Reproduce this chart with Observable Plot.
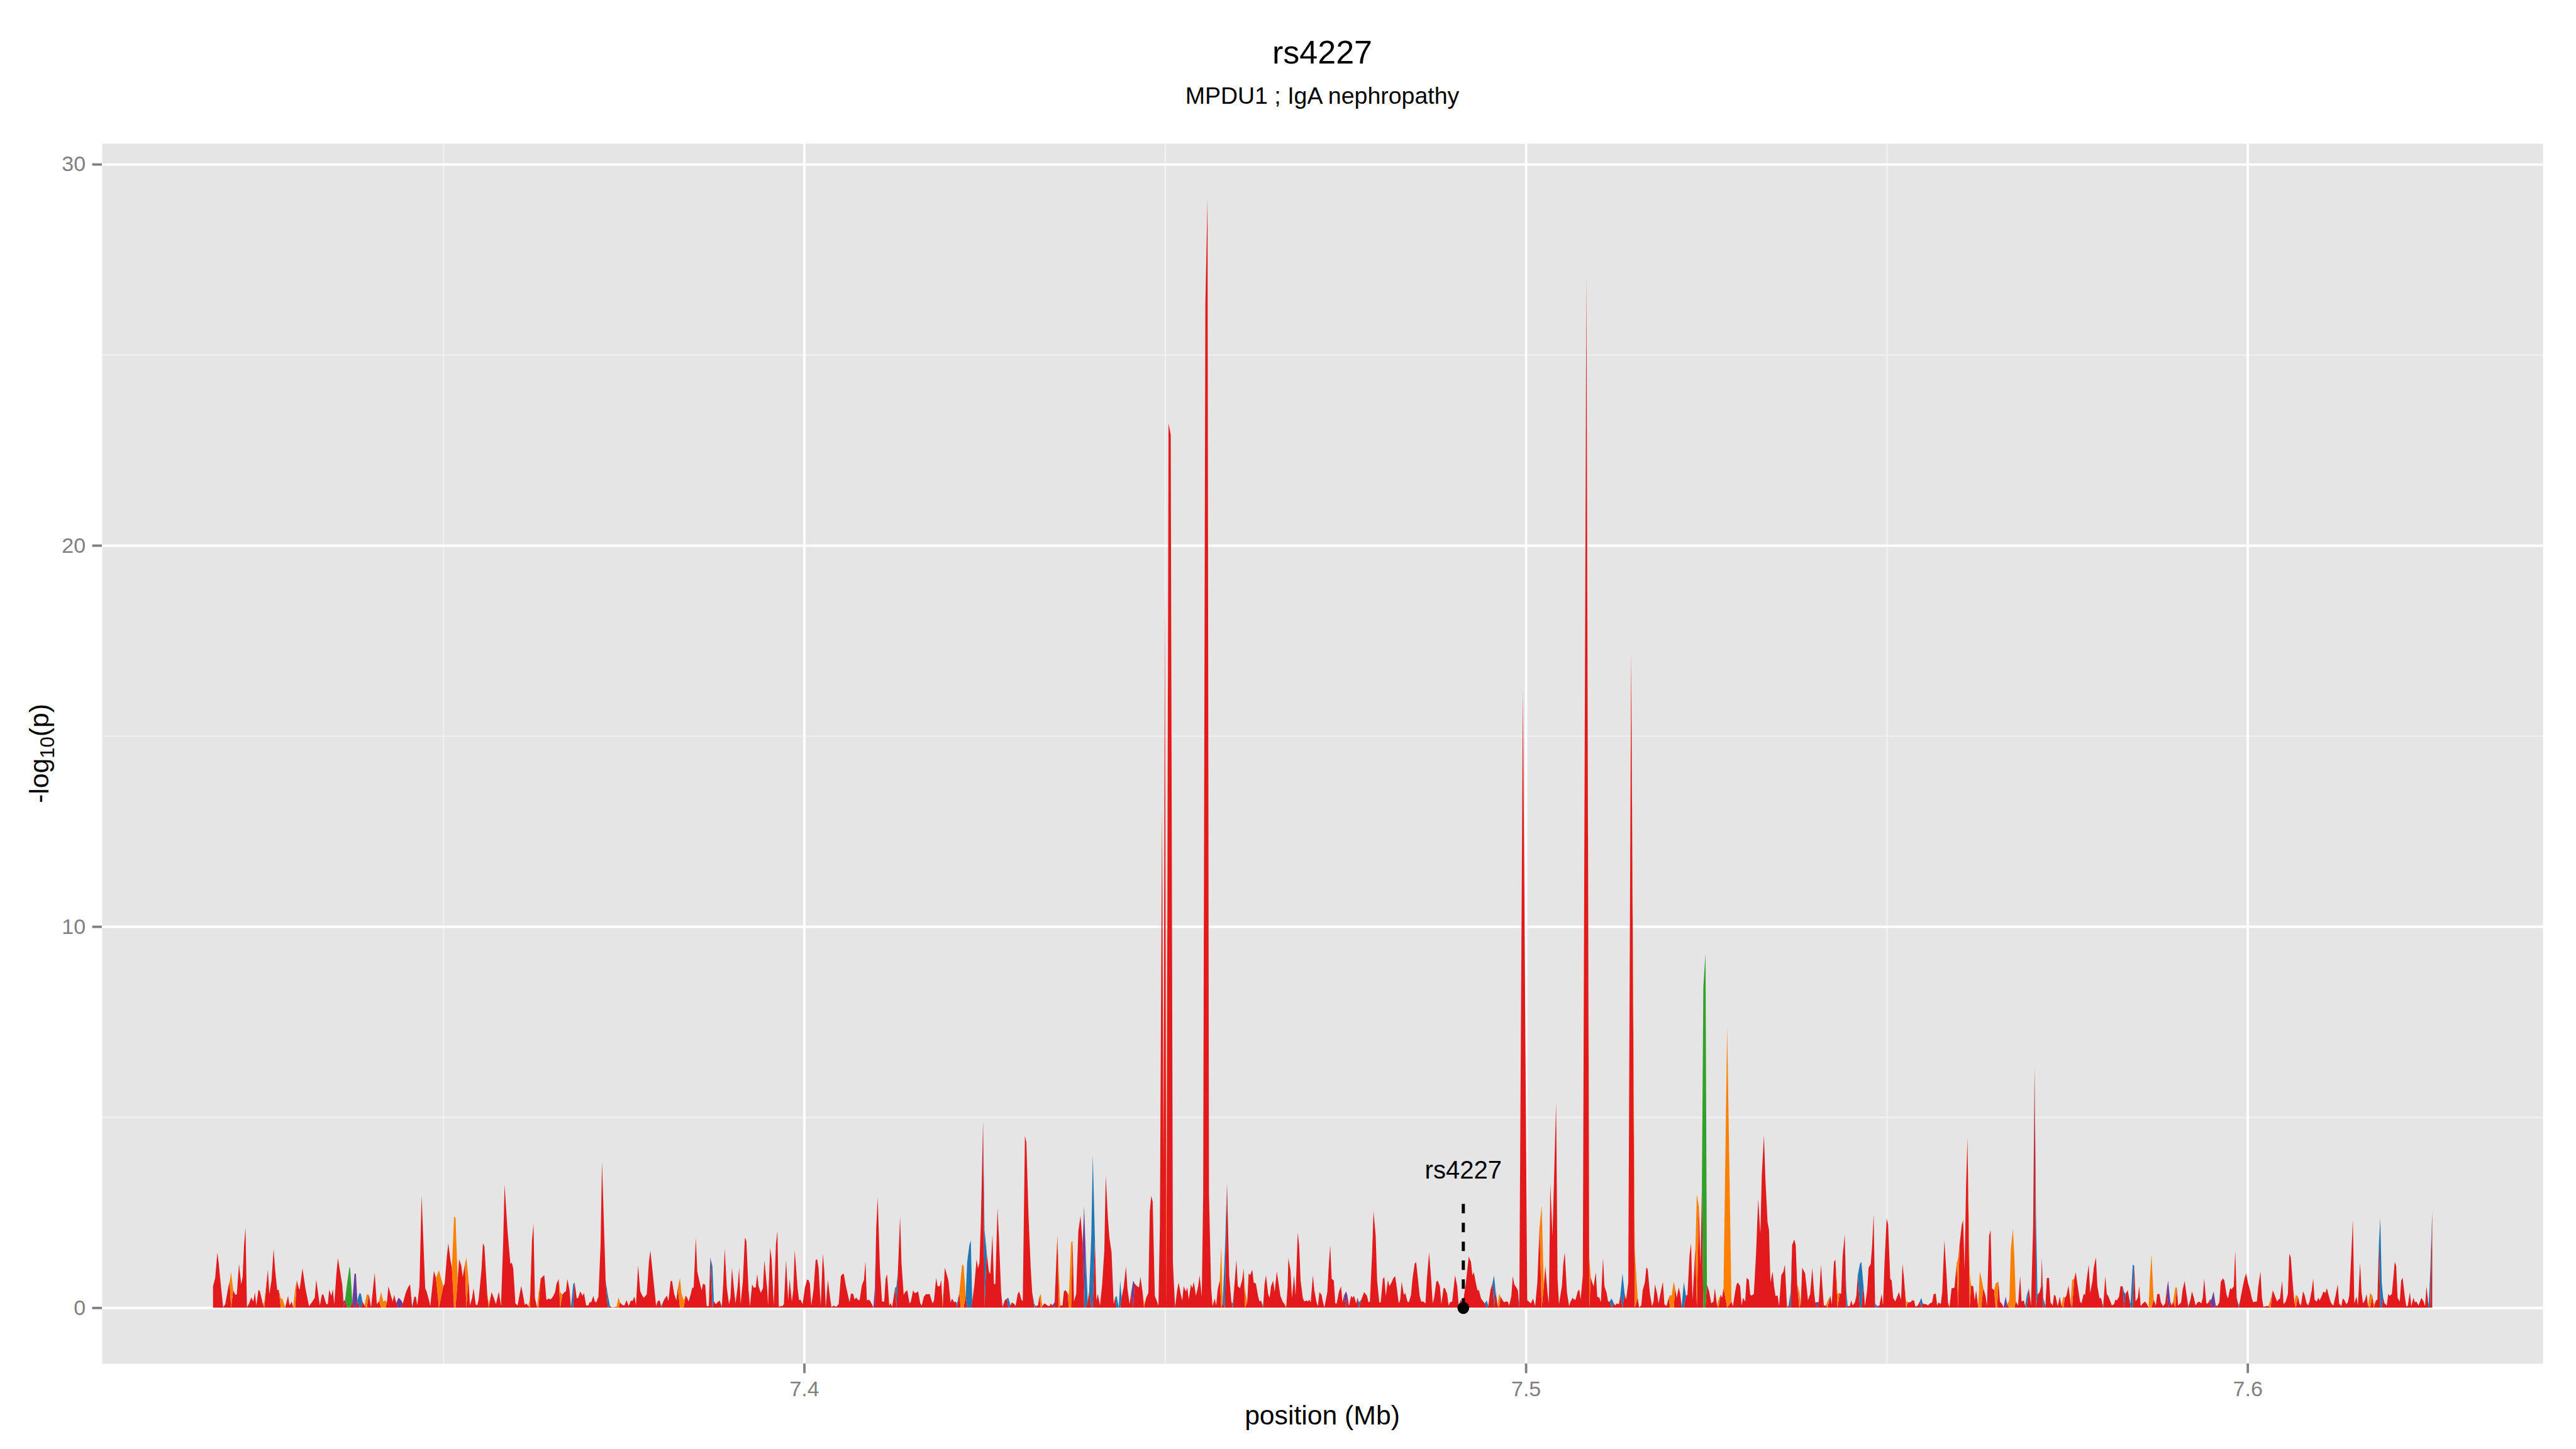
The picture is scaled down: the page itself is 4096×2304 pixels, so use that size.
<!DOCTYPE html>
<html>
<head>
<meta charset="utf-8">
<script src="https://cdn.jsdelivr.net/npm/d3@7"></script>
<script src="https://cdn.jsdelivr.net/npm/@observablehq/plot@0.6"></script>
<style>
  html, body { margin: 0; padding: 0; background: #ffffff; }
  #chart svg { display: block; }
</style>
</head>
<body>
<div id="chart"></div>
<script>
// ---------------- DATA ----------------
// Each SNP: [position (Mb), -log10(p), class]; class defaults to "R"
const classCodes = ["R", "B", "O", "G", "P"];
const classColors = ["#E31A1C", "#1F78B4", "#FF7F00", "#33A02C", "#6A3D9A"];

const snpsA = [
[7.3181,0.56],[7.3184,0.78],[7.3187,1.45],[7.3189,1.15],[7.3192,0.56],[7.3195,0.02,"P"],[7.3198,0.09],[7.3202,0.53],
[7.3204,0.68],[7.3206,0.93,"O"],[7.3209,0.46],[7.3212,0.34],[7.3214,0.35],[7.3217,1.15],[7.3220,0.61],[7.3222,0.8],
[7.3224,1.64],[7.3226,2.1],[7.3228,0.02,"B"],[7.3231,0.11],[7.3234,0.27],[7.3237,0.16],[7.3239,0.4],[7.3241,0.06],
[7.3244,0.47],[7.3246,0.43],[7.3250,0.1],[7.3252,0.14,"O"],[7.3257,1.0],[7.3259,0.36],[7.3262,0.71],[7.3265,1.54],
[7.3267,1.0],[7.3270,0.46],[7.3272,0.47],[7.3275,0.24,"O"],[7.3277,0.24,"O"],[7.3281,0.01],[7.3285,0.31],[7.3287,0.06],
[7.3290,0.16],[7.3292,0.01],[7.3295,0.51,"O"],[7.3297,0.72],[7.3300,0.5],[7.3301,0.48],[7.3305,1.03],[7.3309,0.51],
[7.3314,0.04],[7.3318,0.14],[7.3322,0.26],[7.3324,0.73],[7.3329,0.06],[7.3332,0.35],[7.3334,0.34],[7.3338,0.09],
[7.3340,0.09],[7.3342,0.47],[7.3345,0.31],[7.3347,0.48],[7.3349,0.09],[7.3352,0.9],[7.3354,1.3],[7.3360,0.61],
[7.3362,0.16,"P"],[7.3364,0.21],[7.3367,0.66,"G"],[7.3370,1.06,"G"],[7.3371,1.04,"G"],[7.3374,0.16],[7.3377,0.89,"P"],[7.3379,0.89,"P"],
[7.3381,0.19],[7.3384,0.39,"B"],[7.3386,0.36,"B"],[7.3388,0.16],[7.3391,0.06],[7.3394,0.35,"O"],[7.3397,0.34],[7.3400,0.01],
[7.3405,0.91],[7.3408,0.09],[7.3411,0.17],[7.3414,0.41,"O"],[7.3417,0.16,"O"],[7.3420,0.19,"O"],[7.3422,0.14],[7.3424,0.56],
[7.3427,0.35],[7.3430,0.16],[7.3432,0.34],[7.3435,0.12],[7.3438,0.26,"P"],[7.3441,0.21,"P"],[7.3444,0.11],[7.3448,0.39],
[7.3451,0.53],[7.3454,0.61],[7.3457,0.04,"B"],[7.3460,0.29],[7.3462,0.29],[7.3464,0.06],[7.3467,0.56],[7.3470,2.95],
[7.3475,0.51],[7.3477,0.42],[7.3481,0.14],[7.3482,0.04],[7.3484,0.41],[7.3487,0.96],[7.3490,0.78],[7.3494,0.98,"O"],
[7.3500,0.56],[7.3502,0.63],[7.3505,1.34],[7.3507,1.69],[7.3510,1.25],[7.3512,1.05],[7.3515,2.39,"O"],[7.3517,2.36,"O"],
[7.3520,0.73],[7.3522,1.27],[7.3525,1.1],[7.3527,0.8],[7.3530,1.15],[7.3532,1.31,"O"],[7.3535,0.76],[7.3537,0.06],
[7.3540,0.26],[7.3542,0.51],[7.3545,0.09],[7.3547,0.06],[7.3549,0.21],[7.3553,1.0],[7.3555,1.69],[7.3557,1.61],
[7.3561,0.34],[7.3563,0.1,"O"],[7.3567,0.41],[7.3570,0.26],[7.3573,0.09],[7.3577,0.42],[7.3580,0.04],[7.3583,1.69],
[7.3585,3.23],[7.3589,2.04],[7.3593,1.15],[7.3595,1.18],[7.3597,1.03],[7.3600,0.11],[7.3603,0.06],[7.3604,0.16],
[7.3608,0.57],[7.3610,0.39],[7.3613,0.07],[7.3615,0.11],[7.3618,0.04],[7.3620,0.24,"O"],[7.3623,1.77],[7.3625,2.2],
[7.3627,0.26],[7.3630,0.01],[7.3632,0.36,"O"],[7.3635,0.76],[7.3640,0.86],[7.3643,0.2],[7.3646,0.24],[7.3649,0.22],
[7.3652,0.29],[7.3655,0.41],[7.3657,0.63],[7.3660,0.75],[7.3662,0.41,"O"],[7.3665,0.34],[7.3668,0.41],[7.3670,0.43],
[7.3672,0.75],[7.3675,0.46],[7.3677,0.01,"B"],[7.3680,0.61,"B"],[7.3682,0.67],[7.3685,0.24],[7.3687,0.26],[7.3690,0.43],
[7.3693,0.31],[7.3695,0.39],[7.3698,0.06],[7.3701,0.06],[7.3703,0.15],[7.3705,0.14],[7.3708,0.31],[7.3710,0.16],
[7.3712,0.14],[7.3715,0.29],[7.3718,1.64],[7.3720,3.84],[7.3725,0.71],[7.3728,0.34,"B"],[7.3731,0.04],[7.3734,0.01,"O"],
[7.3740,0.02],[7.3743,0.27,"O"],[7.3745,0.14],[7.3748,0.07],[7.3751,0.06],[7.3754,0.2],[7.3757,0.04],[7.3760,0.19],
[7.3762,0.17],[7.3765,0.29],[7.3767,0.06],[7.3770,1.11],[7.3773,0.43],[7.3776,0.31],[7.3778,0.26],[7.3782,0.35],
[7.3785,1.2],[7.3787,1.5]
];

const snpsB = [
[7.3795,0.04],[7.3797,0.17],[7.3800,0.19],[7.3802,0.04,"B"],[7.3806,0.21],[7.3810,0.32],[7.3812,0.17],[7.3815,0.7],
[7.3817,0.7],[7.3820,0.36],[7.3823,0.19],[7.3825,0.51],[7.3828,0.78,"O"],[7.3830,0.39,"O"],[7.3833,0.19,"O"],[7.3836,0.32],
[7.3838,0.26],[7.3840,0.16],[7.3843,0.36],[7.3845,0.52],[7.3847,0.53],[7.3850,1.84],[7.3852,0.95],[7.3856,0.61],
[7.3858,0.46],[7.3860,0.63],[7.3863,0.6],[7.3865,0.04],[7.3868,0.04],[7.3870,1.32],[7.3873,1.08,"B"],[7.3875,0.16],
[7.3878,0.09],[7.3880,0.14],[7.3883,0.19],[7.3886,0.04,"B"],[7.3888,0.66],[7.3890,1.55],[7.3893,0.51],[7.3896,0.09],
[7.3898,0.26],[7.3900,1.05],[7.3903,0.46],[7.3905,0.11],[7.3908,0.56],[7.3910,1.05],[7.3912,0.1],[7.3915,0.66],
[7.3918,1.84],[7.3920,1.75],[7.3923,0.46],[7.3925,0.04],[7.3928,0.61],[7.3930,0.53],[7.3933,0.53],[7.3935,0.88],
[7.3937,0.56],[7.3940,0.39],[7.3943,0.51],[7.3945,1.24],[7.3949,0.46],[7.3950,0.06],[7.3953,1.57],[7.3955,1.27],
[7.3958,0.06],[7.3961,1.67],[7.3963,2.01],[7.3965,0.02],[7.3967,0.04],[7.3970,0.04],[7.3972,0.09],[7.3975,1.25],
[7.3978,0.19],[7.3980,0.75],[7.3983,0.16],[7.3985,0.46],[7.3987,1.51],[7.3991,0.51],[7.3993,0.2],[7.3995,0.21],
[7.3998,0.09],[7.4001,0.51],[7.4004,0.73],[7.4006,0.73],[7.4008,0.63],[7.4010,0.06],[7.4013,0.46],[7.4016,1.25],
[7.4018,1.27],[7.4020,1.05],[7.4023,0.06],[7.4026,1.42],[7.4028,0.95],[7.4030,0.04,"B"],[7.4033,0.73],[7.4036,0.26],
[7.4038,0.01],[7.4041,0.06],[7.4044,0.02],[7.4047,0.07],[7.4048,0.11],[7.4051,0.83],[7.4053,0.88],[7.4055,0.89],
[7.4058,0.56],[7.4063,0.14],[7.4065,0.37],[7.4068,0.36],[7.4070,0.21],[7.4072,0.27],[7.4075,0.2],[7.4077,0.2],
[7.4080,0.58],[7.4083,0.73],[7.4085,1.22],[7.4087,0.19],[7.4090,0.21],[7.4092,0.16],[7.4096,0.01],[7.4098,0.51,"P"],
[7.4100,2.11],[7.4102,2.9],[7.4105,1.05],[7.4108,0.16],[7.4111,0.16],[7.4113,0.76],[7.4115,0.88],[7.4118,0.06],
[7.4120,0.12],[7.4122,0.02],[7.4126,0.51],[7.4128,0.56,"B"],[7.4130,0.95],[7.4133,2.39],[7.4135,1.15],[7.4138,0.34],
[7.4140,0.41],[7.4143,0.46],[7.4146,0.11],[7.4148,0.16],[7.4151,0.46],[7.4153,0.39],[7.4155,0.39],[7.4158,0.43],
[7.4161,0.11],[7.4163,0.06],[7.4166,0.29],[7.4169,0.36],[7.4171,0.35],[7.4174,0.36],[7.4178,0.11],[7.4180,0.19],
[7.4183,0.78],[7.4185,0.56],[7.4188,0.56],[7.4190,0.73],[7.4192,0.11,"O"],[7.4195,1.05],[7.4198,0.85],[7.4200,0.71],
[7.4203,0.14],[7.4205,0.24],[7.4208,0.14],[7.4210,0.16],[7.4212,0.11,"B"],[7.4215,0.39],[7.4217,0.76,"O"],[7.4219,1.14,"O"],
[7.4221,1.1,"O"],[7.4224,0.31],[7.4226,1.2,"B"],[7.4229,1.64,"B"],[7.4231,1.77,"B"],[7.4233,0.16],[7.4236,0.61],[7.4239,1.27],
[7.4241,1.03],[7.4243,1.18],[7.4245,2.29],[7.4248,4.9],[7.4250,2.04,"B"],[7.4253,1.45],[7.4256,0.95],[7.4258,0.88],
[7.4261,1.92],[7.4263,0.63],[7.4265,0.61],[7.4268,2.61],[7.4270,1.82],[7.4273,0.41],[7.4275,0.04,"B"],[7.4278,0.19],
[7.4281,0.24],[7.4283,0.26,"B"],[7.4286,0.06],[7.4288,0.14],[7.4291,0.1],[7.4293,0.04],[7.4296,0.36],[7.4298,0.43],
[7.4301,0.21],[7.4303,0.17],[7.4306,4.51],[7.4308,4.34],[7.4311,2.39],[7.4314,1.05],[7.4316,0.41],[7.4319,0.09,"B"],
[7.4321,0.04],[7.4324,0.06],[7.4326,0.29],[7.4328,0.36,"O"],[7.4330,0.04],[7.4333,0.11],[7.4335,0.09],[7.4337,0.06],
[7.4340,0.04],[7.4342,0.11],[7.4344,0.06],[7.4347,0.14,"P"],[7.4349,1.0],[7.4351,1.89],[7.4353,0.9,"O"],[7.4355,0.06],
[7.4358,0.06],[7.4360,0.43],[7.4362,0.46],[7.4365,0.39],[7.4367,0.34,"O"],[7.4370,1.72,"O"],[7.4372,1.74],[7.4374,0.16],
[7.4377,0.36],[7.4380,2.01],[7.4383,2.41],[7.4386,1.67],[7.4388,2.66,"P"],[7.4390,1.55,"B"],[7.4393,0.16],[7.4395,0.43],
[7.4398,1.89,"B"],[7.4400,4.02,"B"],[7.4403,1.77],[7.4405,0.19],[7.4407,0.36]
];

const snpsC = [
[7.4410,0.06],[7.4413,0.61],[7.4416,1.5],[7.4418,3.47],[7.4421,2.34],[7.4423,1.84],[7.4426,1.45],[7.4429,0.09],
[7.4431,0.27],[7.4433,0.31,"B"],[7.4436,0.01],[7.4438,0.71,"B"],[7.4440,0.26],[7.4443,0.56],[7.4446,1.08],[7.4448,0.51],
[7.4451,0.09],[7.4453,0.36],[7.4456,0.71,"P"],[7.4458,0.63],[7.4461,0.57],[7.4464,0.53],[7.4466,0.81],[7.4469,0.41],
[7.4471,0.09,"O"],[7.4474,0.26],[7.4477,0.39],[7.4479,2.53],[7.4481,2.93],[7.4483,2.78],[7.4486,0.31],[7.4488,0.21],
[7.4491,0.06],[7.4493,2.14],[7.4496,13.1],[7.4498,3.8],[7.4500,18.7],[7.4502,2.0,"O"],[7.4505,23.2],[7.4508,22.9],
[7.4511,1.2],[7.4514,0.04,"B"],[7.4517,0.46],[7.4519,0.66],[7.4522,0.34],[7.4524,0.19],[7.4526,0.56],[7.4529,0.42],
[7.4531,0.53],[7.4533,0.21],[7.4536,0.61],[7.4538,0.51],[7.4540,0.68],[7.4543,0.31],[7.4546,0.56],[7.4548,0.85],
[7.4551,0.29],[7.4553,3.0],[7.4556,26.3],[7.4559,29.1],[7.4561,3.0],[7.4564,0.51],[7.4566,0.04],[7.4569,0.24],
[7.4571,0.06],[7.4573,0.46],[7.4576,0.73],[7.4578,1.6,"O"],[7.4580,0.11],[7.4583,1.45,"B"],[7.4586,3.27],[7.4589,0.85],
[7.4592,0.16],[7.4594,0.11,"B"],[7.4596,0.53],[7.4599,1.26],[7.4601,0.56],[7.4604,0.51],[7.4607,0.73],[7.4609,1.03],
[7.4611,0.46,"O"],[7.4614,0.14],[7.4616,0.9],[7.4618,0.85],[7.4621,1.0],[7.4623,0.66],[7.4626,0.63],[7.4629,0.31],
[7.4631,0.16],[7.4633,0.19],[7.4636,0.04,"B"],[7.4638,0.61],[7.4640,0.85],[7.4643,0.36],[7.4645,0.26],[7.4647,0.56],
[7.4650,0.71],[7.4652,0.41],[7.4655,0.95],[7.4658,0.56],[7.4660,0.31],[7.4663,0.16],[7.4665,0.11],[7.4668,0.04,"O"],
[7.4670,0.56],[7.4671,1.3],[7.4674,0.98],[7.4676,0.26],[7.4679,0.85],[7.4681,0.31],[7.4684,1.97],[7.4686,1.62],
[7.4688,0.71],[7.4691,0.26],[7.4693,0.16],[7.4696,0.19],[7.4698,0.16],[7.4700,0.21],[7.4702,0.14],[7.4705,0.85],
[7.4707,0.46],[7.4710,0.14],[7.4712,0.04],[7.4714,0.41],[7.4717,0.34],[7.4719,0.14],[7.4721,0.01],[7.4725,0.41],
[7.4727,1.1],[7.4729,1.64],[7.4731,0.76],[7.4734,0.71],[7.4736,0.11],[7.4738,0.11],[7.4741,0.41],[7.4744,0.56],
[7.4746,0.14],[7.4748,0.31],[7.4751,0.43,"P"],[7.4753,0.31],[7.4755,0.04],[7.4758,0.31],[7.4760,0.26],[7.4762,0.31],
[7.4765,0.11],[7.4767,0.26],[7.4769,0.14,"B"],[7.4772,0.21],[7.4774,0.31],[7.4776,0.41],[7.4780,0.31],[7.4782,0.14],
[7.4784,0.16],[7.4787,1.4],[7.4789,2.53],[7.4792,1.89],[7.4794,0.71],[7.4797,0.14],[7.4799,0.14],[7.4802,0.76],
[7.4804,0.8],[7.4806,0.31],[7.4809,0.73],[7.4811,0.56],[7.4814,0.66],[7.4816,0.76],[7.4819,0.83],[7.4821,0.56],
[7.4824,0.11],[7.4826,0.21],[7.4828,0.68],[7.4831,0.34],[7.4833,0.39],[7.4836,0.16],[7.4838,0.14],[7.4841,0.34],
[7.4843,0.76],[7.4846,1.15],[7.4848,1.2],[7.4850,0.85],[7.4853,0.31],[7.4855,0.16],[7.4858,0.16],[7.4861,0.11],
[7.4863,0.76],[7.4866,1.45],[7.4869,0.71],[7.4871,0.11],[7.4873,0.26],[7.4876,0.68],[7.4878,0.71],[7.4881,0.56],
[7.4883,0.09],[7.4886,0.51],[7.4888,0.51],[7.4891,0.36],[7.4893,0.06],[7.4895,0.14],[7.4898,0.16],[7.4900,0.51],
[7.4902,0.85],[7.4905,0.56],[7.4907,0.06],[7.4910,0.21],[7.4912,0.11],[7.4914,0.26],[7.4917,0.66],[7.4921,1.34],
[7.4924,1.2],[7.4926,0.85],[7.4928,0.93],[7.4931,0.63],[7.4933,0.46],[7.4935,0.46],[7.4938,0.24],[7.4940,0.19],
[7.4943,0.11],[7.4946,0.19,"B"],[7.4948,0.04],[7.4951,0.46],[7.4954,0.66],[7.4956,0.85,"B"],[7.4958,0.46],[7.4961,0.06],
[7.4963,0.36,"O"],[7.4965,0.29],[7.4968,0.19],[7.4970,0.14],[7.4972,0.16],[7.4975,0.16],[7.4977,0.06],[7.4980,0.31],
[7.4982,0.83],[7.4984,0.61],[7.4987,0.53],[7.4989,0.46],[7.4991,0.11,"B"],[7.4996,16.2],[7.5002,0.2],[7.5007,0.11],
[7.5010,0.24],[7.5013,0.04],[7.5016,0.66],[7.5019,2.09],[7.5022,2.68,"O"],[7.5025,0.56]
];

const snpsD = [
[7.5027,1.1],[7.5030,0.41],[7.5032,0.11],[7.5034,3.25],[7.5037,1.89],[7.5042,5.37],[7.5044,0.76],[7.5046,0.09],
[7.5050,0.56],[7.5052,1.15],[7.5054,1.45],[7.5057,0.41],[7.5060,0.04],[7.5062,0.16],[7.5065,0.26],[7.5067,0.21],
[7.5069,0.21],[7.5072,0.43],[7.5074,0.48],[7.5076,0.21],[7.5079,0.85],[7.5084,27.1],[7.5088,1.3,"O"],[7.5090,0.8],
[7.5092,0.66],[7.5094,0.56],[7.5097,0.93],[7.5099,0.29],[7.5102,0.26],[7.5104,0.14],[7.5107,1.3],[7.5109,0.56],
[7.5112,0.39],[7.5114,0.16],[7.5116,0.16],[7.5119,0.24,"B"],[7.5122,0.11],[7.5124,0.06],[7.5126,0.11],[7.5129,0.09],
[7.5131,0.31],[7.5134,0.9,"B"],[7.5137,0.36],[7.5139,0.21],[7.5142,0.66],[7.5146,17.2],[7.5151,1.5,"O"],[7.5155,0.26],
[7.5157,0.01],[7.5160,0.06],[7.5162,0.46],[7.5165,0.66],[7.5167,1.06],[7.5169,1.0],[7.5172,0.36],[7.5175,0.04],
[7.5177,0.16],[7.5179,0.61],[7.5182,0.36],[7.5184,0.11],[7.5187,0.41],[7.5190,0.68],[7.5192,0.09],[7.5195,0.04],
[7.5198,0.26],[7.5200,0.34,"O"],[7.5202,0.31,"O"],[7.5205,0.68,"O"],[7.5207,0.51],[7.5209,0.26],[7.5212,0.53],[7.5214,0.36],
[7.5216,0.04,"B"],[7.5219,0.67,"B"],[7.5222,0.31],[7.5224,0.34],[7.5227,1.4],[7.5229,1.69],[7.5231,0.21],[7.5235,1.55],
[7.5237,2.97,"O"],[7.5240,2.63],[7.5242,1.1],[7.5244,3.22],[7.5246,8.4,"G"],[7.5249,9.3,"G"],[7.5251,0.6],[7.5254,0.43],[7.5257,0.11],
[7.5260,0.16],[7.5262,0.51],[7.5265,0.06],[7.5267,0.21,"O"],[7.5270,0.34],[7.5272,0.26],[7.5274,0.51],[7.5279,7.35,"O"],
[7.5285,0.16],[7.5287,0.04],[7.5290,0.41],[7.5292,0.61],[7.5294,0.66],[7.5297,0.56],[7.5299,0.06],[7.5301,0.26],
[7.5304,0.16],[7.5306,0.78],[7.5309,0.73],[7.5311,0.34],[7.5313,0.32],[7.5316,0.36],[7.5319,1.4],[7.5322,2.85],
[7.5325,1.94],[7.5327,3.47],[7.5330,4.53],[7.5332,3.37],[7.5335,2.24],[7.5337,2.04],[7.5339,0.66],[7.5342,0.95],
[7.5344,0.56],[7.5346,0.31],[7.5349,0.32],[7.5351,0.04],[7.5354,0.85],[7.5357,0.95],[7.5359,1.13],[7.5362,0.06,"O"],
[7.5364,0.04],[7.5367,0.41,"B"],[7.5369,1.64],[7.5372,1.79],[7.5374,1.64],[7.5376,0.61],[7.5379,0.41,"O"],[7.5381,0.11],
[7.5383,1.05],[7.5387,0.9],[7.5389,0.56],[7.5391,0.19],[7.5394,0.36],[7.5397,1.05],[7.5399,0.51],[7.5401,0.14],
[7.5404,0.14,"P"],[7.5406,0.16],[7.5409,1.13],[7.5411,0.56],[7.5413,0.06],[7.5416,0.06],[7.5418,0.16,"O"],[7.5422,0.31],
[7.5424,0.09],[7.5427,1.2],[7.5429,1.26],[7.5432,0.36,"O"],[7.5435,0.39],[7.5437,0.36],[7.5439,1.35],[7.5442,1.92],
[7.5444,0.46,"B"],[7.5446,0.04],[7.5449,0.04],[7.5451,0.19],[7.5453,0.06],[7.5456,0.14],[7.5458,0.31],[7.5460,0.85],
[7.5463,1.15,"B"],[7.5465,1.2,"B"],[7.5468,0.56],[7.5470,0.04],[7.5473,0.46],[7.5475,1.05],[7.5478,1.15],[7.5480,1.67],
[7.5482,2.46],[7.5484,0.11,"B"],[7.5487,0.04,"P"],[7.5490,0.06],[7.5493,0.36],[7.5495,0.06],[7.5497,1.15],[7.5500,2.34],
[7.5502,2.19],[7.5505,0.76],[7.5507,0.71],[7.5509,0.26],[7.5512,0.16],[7.5515,0.31],[7.5517,0.41],[7.5520,0.21],
[7.5522,1.15],[7.5524,0.78],[7.5527,0.16,"O"],[7.5530,0.14],[7.5533,0.14],[7.5535,0.19],[7.5538,0.19],[7.5540,0.02],
[7.5543,0.06],[7.5546,0.16],[7.5548,0.26,"B"],[7.5550,0.11],[7.5553,0.09],[7.5555,0.09],[7.5557,0.06],[7.5560,0.11],
[7.5563,0.14],[7.5565,0.35],[7.5568,0.37],[7.5570,0.06],[7.5572,0.14],[7.5575,0.09],[7.5577,0.41],[7.5580,1.77],
[7.5583,0.85],[7.5585,0.14],[7.5587,0.04,"O"],[7.5590,0.51],[7.5592,0.51],[7.5594,0.53],[7.5597,1.15],[7.5599,1.3,"O"],
[7.5601,1.64],[7.5604,2.16],[7.5606,2.3],[7.5608,1.0],[7.5610,3.13],[7.5612,4.45],[7.5615,0.9,"O"],[7.5617,0.58],
[7.5620,0.56],[7.5622,0.19],[7.5624,0.46],[7.5627,0.04,"O"],[7.5629,0.95,"O"],[7.5631,0.8,"O"],[7.5634,0.51],[7.5637,0.31],
[7.5639,0.04],[7.5642,1.89]
];

const snpsE = [
[7.5644,2.04],[7.5646,0.51],[7.5649,0.46],[7.5651,0.63,"O"],[7.5653,0.66,"O"],[7.5655,0.68],[7.5657,0.16],[7.5660,0.09],
[7.5662,0.01],[7.5665,0.29,"P"],[7.5667,0.09],[7.5670,0.19,"O"],[7.5672,1.5,"O"],[7.5675,2.08,"O"],[7.5677,1.3,"O"],[7.5679,0.16],
[7.5682,0.06],[7.5685,0.83],[7.5687,0.16],[7.5690,0.19],[7.5692,0.04],[7.5694,0.31,"B"],[7.5697,0.51],[7.5700,0.06],
[7.5703,2.14],[7.5705,6.35],[7.5707,2.34,"B"],[7.5709,0.34],[7.5712,0.41],[7.5714,0.56],[7.5715,1.32],[7.5717,0.26,"B"],
[7.5720,0.04],[7.5722,0.78],[7.5725,0.78],[7.5727,0.14],[7.5730,0.06],[7.5732,0.34],[7.5734,0.31],[7.5737,0.04],
[7.5740,0.29],[7.5742,0.06],[7.5745,0.29,"O"],[7.5747,0.26],[7.5749,0.31],[7.5752,0.58],[7.5755,0.11],[7.5757,0.73,"O"],
[7.5760,0.76],[7.5762,0.93],[7.5764,0.66],[7.5768,0.16],[7.5770,0.11],[7.5773,0.36],[7.5775,0.34],[7.5777,0.71],
[7.5780,1.13],[7.5782,0.39],[7.5785,0.68],[7.5787,1.05],[7.5790,1.32],[7.5792,0.56],[7.5795,0.24],[7.5797,0.26],
[7.5800,0.04,"B"],[7.5803,0.83],[7.5805,0.36],[7.5807,0.31],[7.5810,0.16],[7.5812,0.06],[7.5815,0.09],[7.5817,0.21],
[7.5819,0.19],[7.5822,0.29],[7.5824,0.56],[7.5827,0.56],[7.5829,0.41,"B"],[7.5831,0.36],[7.5834,0.46],[7.5836,0.26],
[7.5838,0.11,"B"],[7.5841,1.13,"B"],[7.5843,1.1],[7.5845,0.16],[7.5848,0.26],[7.5850,0.56],[7.5852,0.04],[7.5855,0.11],
[7.5858,0.16],[7.5860,0.11],[7.5863,0.01],[7.5865,0.85,"O"],[7.5867,1.4,"O"],[7.5870,0.21],[7.5873,0.06],[7.5875,0.36],
[7.5878,0.36],[7.5880,0.14],[7.5883,0.04],[7.5886,0.11],[7.5888,0.46],[7.5890,0.71,"P"],[7.5893,0.16],[7.5895,0.06],
[7.5897,0.16],[7.5900,0.53,"O"],[7.5902,0.53],[7.5904,0.06],[7.5908,0.14],[7.5910,0.46],[7.5913,0.7],[7.5915,0.41],
[7.5918,0.04,"B"],[7.5921,0.21],[7.5923,0.43],[7.5926,0.24],[7.5928,0.06],[7.5931,0.14],[7.5933,0.16],[7.5936,0.11],
[7.5938,0.26],[7.5940,0.76],[7.5943,0.11],[7.5945,0.11],[7.5948,0.21],[7.5950,0.21,"P"],[7.5953,0.43,"P"],[7.5956,0.06],
[7.5958,0.04],[7.5961,0.14],[7.5963,0.68],[7.5966,0.77],[7.5968,0.71],[7.5971,0.34],[7.5973,0.24],[7.5976,0.51],
[7.5978,0.48],[7.5981,0.56],[7.5983,1.5],[7.5985,0.26],[7.5988,0.06,"B"],[7.5990,0.21],[7.5993,0.51],[7.5996,0.78],
[7.5998,0.9],[7.6001,0.63],[7.6004,0.43],[7.6006,0.24],[7.6008,0.14],[7.6011,0.16],[7.6013,0.16],[7.6015,0.56],
[7.6018,0.95],[7.6020,0.26],[7.6022,0.02],[7.6026,0.04],[7.6029,0.04],[7.6032,0.21,"O"],[7.6035,0.46],[7.6038,0.31],
[7.6041,0.16],[7.6043,0.21],[7.6045,0.24],[7.6048,0.71],[7.6050,0.09],[7.6053,0.16],[7.6056,0.36],[7.6058,1.42],
[7.6060,1.32],[7.6063,0.56],[7.6065,0.14],[7.6067,0.34,"O"],[7.6070,0.29],[7.6072,0.11],[7.6074,0.06],[7.6077,0.43],
[7.6079,0.34],[7.6082,0.11],[7.6084,0.06],[7.6086,0.16],[7.6089,0.46],[7.6091,0.76],[7.6093,0.21],[7.6096,0.16],
[7.6098,0.26],[7.6100,0.19],[7.6103,0.31],[7.6105,0.42],[7.6108,0.39],[7.6110,0.51],[7.6112,0.36],[7.6115,0.16],
[7.6117,0.09],[7.6119,0.06],[7.6122,0.31],[7.6125,0.61],[7.6127,0.11],[7.6130,0.04],[7.6132,0.24],[7.6134,0.21],
[7.6137,0.09],[7.6139,0.14],[7.6141,0.31],[7.6144,1.45],[7.6146,2.31],[7.6148,0.11],[7.6151,0.29],[7.6153,0.06],
[7.6156,1.18],[7.6158,0.41],[7.6160,0.11],[7.6163,0.21],[7.6165,0.36],[7.6167,0.04],[7.6170,0.39,"O"],[7.6173,0.31],
[7.6175,0.09,"O"],[7.6178,0.19],[7.6180,0.21],[7.6182,1.64],[7.6184,2.36,"B"],[7.6186,0.66,"B"],[7.6188,0.26],[7.6190,0.11],
[7.6193,0.06],[7.6195,0.36],[7.6197,0.31],[7.6200,0.36],[7.6202,0.76],[7.6204,1.2],[7.6206,1.1],[7.6208,0.26],
[7.6211,0.16],[7.6213,0.72],[7.6215,0.78],[7.6218,0.29],[7.6220,0.04],[7.6222,0.04],[7.6225,0.41],[7.6227,0.04],
[7.6230,0.26],[7.6232,0.14],[7.6234,0.16],[7.6237,0.06],[7.6239,0.16],[7.6241,0.26],[7.6244,0.16],[7.6246,0.04],
[7.6248,0.56],[7.6251,0.06,"B"],[7.6253,0.85,"B"],[7.6256,2.53]
];

// Highlighted SNP
const leadSnp = { name: "rs4227", position: 7.4913, stemTop: 2.9, labelAt: 3.6 };

// Axes
const xTicks = [7.4, 7.5, 7.6];
const xMinor = [7.35, 7.45, 7.55];
const yTicks = [0, 10, 20, 30];
const yMinor = [5, 15, 25];
const xDomain = [7.3027, 7.6409];
const yDomain = [-1.464, 30.545];

const titleText = "rs4227";
const subtitleText = "MPDU1 ; IgA nephropathy";
const xLabelText = "position (Mb)";

// ---------------- BUILD ----------------
const snps = [...snpsA, ...snpsB, ...snpsC, ...snpsD, ...snpsE]
  .map(([pos, logp, cls = "R"]) => ({ pos, logp, cls }))
  .sort((a, b) => a.pos - b.pos);

// one row per (class, SNP): value only where the SNP belongs to the class (stacked like ggplot geom_area)
const rows = classCodes.flatMap(c =>
  snps.map(s => ({ pos: s.pos, cls: c, logp: s.cls === c ? s.logp : 0 }))
);

const W = 4096, H = 2304;
const mL = 162, mR = 53, mT = 228, mB = 136;
const FONT = "'Liberation Sans', Arial, Helvetica, sans-serif";

const svg = Plot.plot({
  width: W,
  height: H,
  marginLeft: mL,
  marginRight: mR,
  marginTop: mT,
  marginBottom: mB,
  style: { fontFamily: FONT, background: "#ffffff", overflow: "visible" },
  x: { domain: xDomain, label: null },
  y: { domain: yDomain, label: null },
  color: { domain: classCodes, range: classColors },
  marks: [
    Plot.frame({ fill: "#E5E5E5", stroke: "none" }),
    Plot.ruleY(yMinor, { stroke: "#F2F2F2", strokeWidth: 1.9 }),
    Plot.ruleX(xMinor, { stroke: "#F2F2F2", strokeWidth: 1.9 }),
    Plot.ruleY(yTicks, { stroke: "#FFFFFF", strokeWidth: 3.8 }),
    Plot.ruleX(xTicks, { stroke: "#FFFFFF", strokeWidth: 3.8 }),
    Plot.areaY(rows, { x: "pos", y: "logp", fill: "cls", z: "cls", curve: "linear" }),
    Plot.ruleX([leadSnp], { x: "position", y1: 0, y2: "stemTop", stroke: "#000000", strokeWidth: 5, strokeDasharray: "15,15" }),
    Plot.dot([leadSnp], { x: "position", y: 0, r: 9.4, fill: "#000000", stroke: "none" }),
    Plot.text([leadSnp], { x: "position", y: "labelAt", text: "name", fontSize: 40, fill: "#000000", lineAnchor: "middle", textAnchor: "middle" }),
    Plot.axisX({ ticks: xTicks, tickFormat: d => d.toFixed(1), tickSize: 15.4, tickPadding: 12, color: "#7F7F7F", strokeWidth: 3.8, fontSize: 34, label: null }),
    Plot.axisY({ ticks: yTicks, tickFormat: d => String(d), tickSize: 15.4, tickPadding: 11, color: "#7F7F7F", strokeWidth: 3.8, fontSize: 34, label: null })
  ]
});

const root = d3.select(svg);
const cx = mL + (W - mL - mR) / 2;

root.append("text")
  .attr("x", cx).attr("y", 100.7)
  .attr("text-anchor", "middle")
  .attr("font-family", FONT).attr("font-size", 52).attr("fill", "#000000")
  .text(titleText);

root.append("text")
  .attr("x", cx).attr("y", 165)
  .attr("text-anchor", "middle")
  .attr("font-family", FONT).attr("font-size", 37.5).attr("fill", "#000000")
  .text(subtitleText);

root.append("text")
  .attr("x", cx).attr("y", 2265)
  .attr("text-anchor", "middle")
  .attr("font-family", FONT).attr("font-size", 42.7).attr("fill", "#000000")
  .text(xLabelText);

const yl = root.append("text")
  .attr("transform", `translate(77,${(mT + (H - mB)) / 2}) rotate(-90)`)
  .attr("text-anchor", "middle")
  .attr("font-family", FONT).attr("font-size", 42.7).attr("fill", "#000000");
yl.append("tspan").text("-log");
yl.append("tspan").attr("font-size", 31).attr("dy", 9).text("10");
yl.append("tspan").attr("dy", -9).text("(p)");

document.getElementById("chart").appendChild(svg);
</script>
</body>
</html>
